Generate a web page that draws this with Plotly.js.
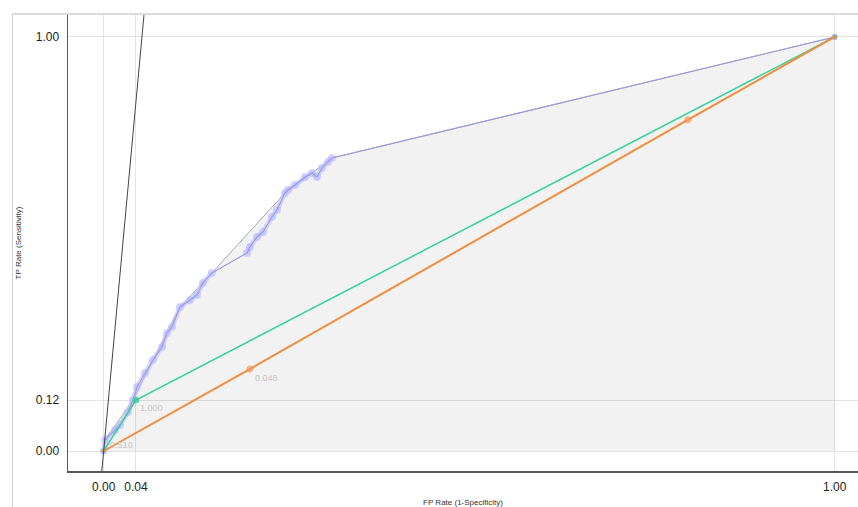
<!DOCTYPE html>
<html>
<head>
<meta charset="utf-8">
<script src="https://cdn.plot.ly/plotly-3.0.1.min.js"></script>
<style>
  html, body { margin: 0; padding: 0; background: #ffffff; overflow: hidden; }
  #frame { position: absolute; left: 12px; top: 13px; width: 860px; height: 510px;
           border-left: 1px solid #cfcfcf; border-top: 2px solid #dcdcdc; box-sizing: border-box; }
  #chart { position: absolute; left: 0; top: 0; width: 858px; height: 507px; }
</style>
</head>
<body>
<div id="frame"></div>
<div id="chart"></div>
<script>
// ROC curve (raw) points: FP rate and TP rate
const rocFpr = [0, 0.0018, 0.0155, 0.0223, 0.0332, 0.0401, 0.0456, 0.0565, 0.0674, 0.0798, 0.0866, 0.0934, 0.1044, 0.1181, 0.1276, 0.1358, 0.1480, 0.1960, 0.2001, 0.2097, 0.2179, 0.2302, 0.2371, 0.2480, 0.2521, 0.2617, 0.2754, 0.2850, 0.2918, 0.2986, 0.3068, 0.3123, 1.0];
const rocTpr = [0, 0.0266, 0.0507, 0.0628, 0.0942, 0.1232, 0.1546, 0.1884, 0.2198, 0.2512, 0.2850, 0.2995, 0.3478, 0.3647, 0.3768, 0.4058, 0.4300, 0.4783, 0.4928, 0.5169, 0.5290, 0.5652, 0.5821, 0.6232, 0.6304, 0.6425, 0.6618, 0.6715, 0.6618, 0.6836, 0.6981, 0.7077, 1.0];
// Dense (thick) parts of the ROC curve
const denseFpr = [0, 0.0018, 0.0155, 0.0223, 0.0332, 0.0401, 0.0456, 0.0565, 0.0674, 0.0798, 0.0866, 0.0934, 0.1044, 0.1181, 0.1276, 0.1358, 0.1480, null, 0.1960, 0.2001, 0.2097, 0.2179, 0.2302, 0.2371, 0.2480, 0.2521, 0.2617, 0.2754, 0.2850, 0.2918, 0.2986, 0.3068, 0.3123];
const denseTpr = [0, 0.0266, 0.0507, 0.0628, 0.0942, 0.1232, 0.1546, 0.1884, 0.2198, 0.2512, 0.2850, 0.2995, 0.3478, 0.3647, 0.3768, 0.4058, 0.4300, null, 0.4783, 0.4928, 0.5169, 0.5290, 0.5652, 0.5821, 0.6232, 0.6304, 0.6425, 0.6618, 0.6715, 0.6618, 0.6836, 0.6981, 0.7077];
// Convex hull
const hullFpr = [0, 0.0018, 0.0401, 0.0866, 0.1044, 0.1480, 0.2480, 0.3123, 1.0];
const hullTpr = [0, 0.0266, 0.1232, 0.2850, 0.3478, 0.4300, 0.6232, 0.7077, 1.0];
// Second model (green)
const greenFpr = [0, 0.0442, 1.0];
const greenTpr = [0, 0.1232, 1.0];
// Third model (orange)
const orangeFpr = [0, 0.200, 0.799, 1.0];
const orangeTpr = [0, 0.198, 0.800, 1.0];
// Iso-performance line
const isoFpr = [-0.06, 0.06];
const isoTpr = [-1.146, 1.146];
// Threshold labels
const thrText = ['0.510', '1.000', '0.048'];
const thrX = [0.0088, 0.0497, 0.207];
const thrY = [0.012, 0.101, 0.174];
// Ticks
const xTickVals = [0, 0.0442, 1];
const xTickText = ['0.00', '0.04', '1.00'];
const yTickVals = [0, 0.1232, 1];
const yTickText = ['0.00', '0.12', '1.00'];

const traces = [
  { x: hullFpr, y: hullTpr, mode: 'lines', fill: 'tozeroy', fillcolor: 'rgba(0,0,0,0.05)',
    line: { color: 'rgba(140,140,150,0.75)', width: 1 }, hoverinfo: 'skip' },
  { x: denseFpr, y: denseTpr, mode: 'lines+markers', connectgaps: false,
    line: { color: 'rgba(185,185,255,0.55)', width: 5 },
    marker: { color: 'rgba(185,185,255,0.6)', size: 8 }, hoverinfo: 'skip' },
  { x: rocFpr, y: rocTpr, mode: 'lines', line: { color: '#9a9ae0', width: 1.1 }, hoverinfo: 'skip' },
  { x: [1.0], y: [1.0], mode: 'markers', marker: { color: '#b8a8f0', size: 6 }, hoverinfo: 'skip' },
  { x: greenFpr, y: greenTpr, mode: 'lines+markers', line: { color: '#34d39b', width: 1.5 },
    marker: { color: '#22cc88', size: [4, 6, 4] }, hoverinfo: 'skip' },
  { x: orangeFpr, y: orangeTpr, mode: 'lines+markers', line: { color: '#f28c3c', width: 2 },
    marker: { color: '#f5a060', size: [3, 6, 6, 3] }, hoverinfo: 'skip' },
  { x: isoFpr, y: isoTpr, mode: 'lines', line: { color: '#444444', width: 1 }, hoverinfo: 'skip' },
  { x: thrX, y: thrY, mode: 'text', text: thrText, textposition: 'middle right',
    textfont: { family: 'Liberation Sans, Arial, sans-serif', size: 9, color: '#c4c4c4' }, hoverinfo: 'skip' }
];

const layout = {
  width: 858, height: 507,
  margin: { l: 68, r: 0, t: 15, b: 36 },
  paper_bgcolor: 'rgba(0,0,0,0)', plot_bgcolor: 'rgba(0,0,0,0)',
  showlegend: false,
  font: { family: 'Liberation Sans, Arial, sans-serif', size: 12, color: '#222' },
  xaxis: {
    range: [-0.0488, 1.0319], tickvals: xTickVals, ticktext: xTickText,
    showgrid: true, gridcolor: '#e4e4e4', gridwidth: 1, zeroline: false,
    showline: true, linecolor: '#555', linewidth: 1.5,
    ticks: 'outside', ticklen: 4, tickcolor: 'rgba(0,0,0,0)',
    tickfont: { size: 12, color: '#222' },
    title: { text: 'FP Rate (1-Specificity)', font: { size: 8, color: '#333' }, standoff: 16 }
  },
  yaxis: {
    range: [-0.0483, 1.0531], tickvals: yTickVals, ticktext: yTickText,
    showgrid: true, gridcolor: '#e4e4e4', gridwidth: 1, zeroline: false,
    showline: true, linecolor: '#555', linewidth: 1.5,
    ticks: 'outside', ticklen: 5, tickcolor: 'rgba(0,0,0,0)',
    tickfont: { size: 12, color: '#222' },
    title: { text: 'TP Rate (Sensitivity)', font: { size: 8, color: '#333' }, standoff: 13 }
  }
};

Plotly.newPlot('chart', traces, layout, { displayModeBar: false, staticPlot: true });
</script>
</body>
</html>
